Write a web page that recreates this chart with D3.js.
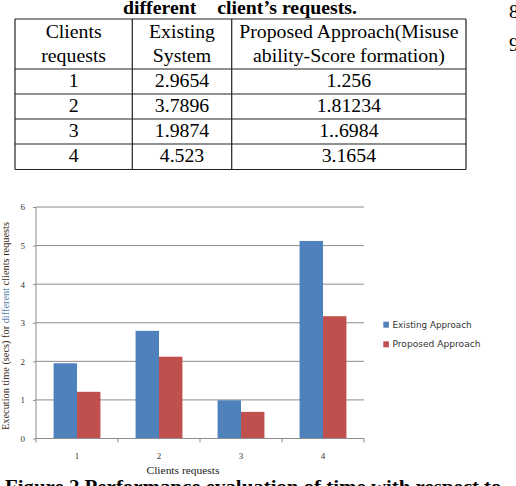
<!DOCTYPE html>
<html><head><meta charset="utf-8">
<script src="https://cdn.jsdelivr.net/npm/d3@7"></script>
<style>html,body{margin:0;padding:0;background:#fff;overflow:hidden}</style>
</head><body>
<script>
const categories = ["1","2","3","4"];
const seriesNames = ["Existing Approach","Proposed Approach"];
const existing = [1.95, 2.79, 0.99, 5.12];
const proposed = [1.21, 2.12, 0.69, 3.17];
const yTicks = [0,1,2,3,4,5,6];
const tableHeader = [["Clients","requests"],["Existing","System"],["Proposed Approach(Misuse","ability-Score formation)"]];
const tableRows = [["1","2.9654","1.256"],["2","3.7896","1.81234"],["3","1.9874","1..6984"],["4","4.523","3.1654"]];
const colors = ["#4F81BD","#C0504D"];

const W=516,H=486;
const svg=d3.select("body").append("svg").attr("width",W).attr("height",H);
svg.append("rect").attr("width",W).attr("height",H).attr("fill","#fff");

const serif="'Liberation Serif','Times New Roman',serif";
function stext(g,x,y,t,opts={}){
  return g.append("text").attr("transform",`translate(${x},${y}) scale(${opts.sx||1.1},1)`)
   .attr("text-anchor",opts.anchor||"middle").attr("font-family",serif)
   .attr("font-size",opts.size||18).attr("font-weight",opts.weight||"normal")
   .attr("fill","#000").text(t);
}
// title
stext(svg,123,13.5,"different",{anchor:"start",weight:"bold",size:18});
stext(svg,217.3,13.5,"client’s requests.",{anchor:"start",weight:"bold",size:18});
// right column fragments
stext(svg,509,18,"8",{anchor:"start",size:18});
stext(svg,509,51,"9",{anchor:"start",size:18});

// table
const colX=[15,132.3,231.7,466];
const rowY=[19,69,94,119,144,169.5];
const tg=svg.append("g");
rowY.forEach(y=>tg.append("line").attr("x1",colX[0]).attr("x2",colX[3]).attr("y1",y).attr("y2",y).attr("stroke","#222").attr("stroke-width",1.2));
colX.forEach(x=>tg.append("line").attr("x1",x).attr("x2",x).attr("y1",rowY[0]).attr("y2",rowY[5]).attr("stroke","#222").attr("stroke-width",1.2));
const colC=[0,1,2].map(i=>(colX[i]+colX[i+1])/2);
tableHeader.forEach((h,i)=>{
  stext(tg,colC[i],38.3,h[0]);
  stext(tg,colC[i],61.5,h[1]);
});
tableRows.forEach((r,j)=>{
  r.forEach((v,i)=>stext(tg,colC[i],87.3+25*j,v));
});

// chart
const x0=d3.scaleBand().domain(categories).range([36,364]).paddingInner(0).paddingOuter(0);
const x1=d3.scaleBand().domain(seriesNames).range([0,x0.bandwidth()]).paddingOuter(0.75).paddingInner(0);
const y=d3.scaleLinear().domain([0,6]).range([438.5,207]);

const cg=svg.append("g");
cg.selectAll(".grid").data(yTicks.filter(d=>d>0)).join("line")
  .attr("x1",36).attr("x2",364).attr("y1",d=>y(d)).attr("y2",d=>y(d))
  .attr("stroke","#8c8c8c").attr("stroke-width",1);
const data=categories.map((c,i)=>({c,vals:[existing[i],proposed[i]]}));
const grp=cg.selectAll(".g").data(data).join("g").attr("transform",d=>`translate(${x0(d.c)},0)`);
grp.selectAll("rect").data(d=>d.vals.map((v,k)=>({k,v}))).join("rect")
  .attr("x",d=>x1(seriesNames[d.k])).attr("width",x1.bandwidth())
  .attr("y",d=>y(d.v)).attr("height",d=>y(0)-y(d.v)).attr("fill",d=>colors[d.k]);
const ya=cg.append("g").attr("transform","translate(36,0)")
  .call(d3.axisLeft(y).tickValues(yTicks).tickSize(3).tickPadding(8).tickFormat(d3.format("d")));
ya.select(".domain").attr("stroke","#8c8c8c").attr("d","M0,207V438.5");
ya.selectAll(".tick line").attr("stroke","#8c8c8c");
ya.selectAll("text").attr("font-family",serif).attr("font-size",9).attr("fill","#333");
const xa=cg.append("g").attr("transform","translate(0,438.5)");
xa.append("line").attr("x1",36).attr("x2",364).attr("stroke","#8c8c8c");
xa.selectAll(".tk").data(categories).join("line")
  .attr("x1",d=>x0(d)+x0.bandwidth()).attr("x2",d=>x0(d)+x0.bandwidth()).attr("y1",0).attr("y2",4).attr("stroke","#8c8c8c");
xa.append("line").attr("x1",36).attr("x2",36).attr("y1",0).attr("y2",4).attr("stroke","#8c8c8c");
xa.selectAll(".lb").data(categories).join("text")
  .attr("x",d=>x0(d)+x0.bandwidth()/2).attr("y",20.5).attr("text-anchor","middle")
  .attr("font-family",serif).attr("font-size",9).attr("fill","#333").text(d=>d);
svg.append("text").attr("x",183).attr("y",473.5).attr("text-anchor","middle")
  .attr("font-family",serif).attr("font-size",11).attr("fill","#222")
  .attr("textLength",73).attr("lengthAdjust","spacingAndGlyphs").text("Clients requests");
const yl=svg.append("text").attr("transform","translate(8.5,326) rotate(-90)").attr("text-anchor","middle")
  .attr("font-family",serif).attr("font-size",10).attr("fill","#3a2a1a")
  .attr("textLength",208).attr("lengthAdjust","spacingAndGlyphs");
yl.append("tspan").text("Execution time (secs) for ");
yl.append("tspan").attr("fill","#5a7fb0").text("different");
yl.append("tspan").text(" clients requests");

const lg=svg.append("g");
seriesNames.forEach((s,i)=>{
  const ly=324.7+19.6*i;
  lg.append("rect").attr("x",383.3).attr("y",ly-3).attr("width",5.6).attr("height",6).attr("fill",colors[i]);
  lg.append("text").attr("x",392.5).attr("y",ly+3).attr("font-family","'DejaVu Sans',sans-serif")
    .attr("font-size",8).attr("fill","#333")
    .attr("textLength",i===0?79:88).attr("lengthAdjust","spacingAndGlyphs").text(s);
});

// caption (clipped by page bottom, as in the reference)
stext(svg,5,492.8,"Figure 2 Performance evaluation of time with respect to",{anchor:"start",weight:"bold",size:18,sx:1.16});
</script>
</body></html>
